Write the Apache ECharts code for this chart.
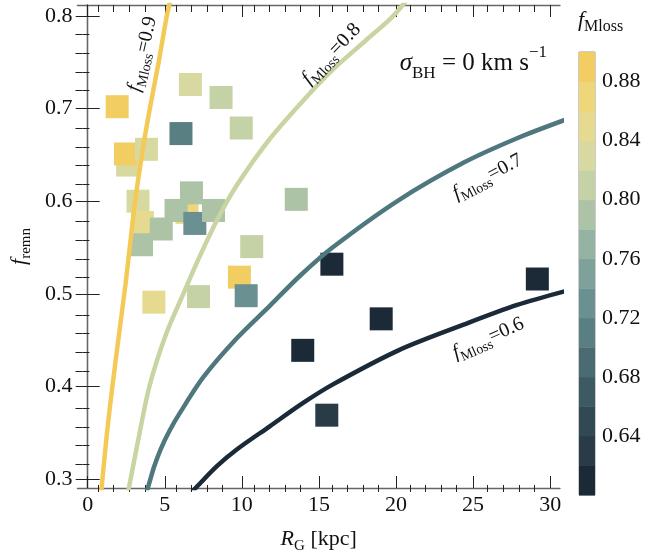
<!DOCTYPE html>
<html>
<head>
<meta charset="utf-8">
<script src="https://cdn.jsdelivr.net/npm/echarts@6/dist/echarts.min.js"></script>
<style>
  html, body { margin: 0; padding: 0; background: #fff; }
  #chart { width: 664px; height: 559px; }
</style>
</head>
<body>
<div id="chart"></div>
<script>
var FONT = 'Liberation Serif, Times New Roman, serif';

// axis ticks
var xMajor = [0, 5, 10, 15, 20, 25, 30];
var xMinor = [1, 2, 3, 4, 6, 7, 8, 9, 11, 12, 13, 14, 16, 17, 18, 19, 21, 22, 23, 24, 26, 27, 28, 29];
var yMajor = [0.3, 0.4, 0.5, 0.6, 0.7, 0.8];
var yMinor = [0.32, 0.34, 0.36, 0.38, 0.42, 0.44, 0.46, 0.48, 0.52, 0.54, 0.56, 0.58,
              0.62, 0.64, 0.66, 0.68, 0.72, 0.74, 0.76, 0.78];
var cbTicks = [0.64, 0.68, 0.72, 0.76, 0.80, 0.84, 0.88];

// colour levels of f_Mloss (15 bands, 0.60 -> 0.90)
var levels = [0.60, 0.62, 0.64, 0.66, 0.68, 0.70, 0.72, 0.74, 0.76, 0.78, 0.80, 0.82, 0.84, 0.86, 0.88, 0.90];
var levelColors = ['#1c2a37', '#283b47', '#324954', '#3d5962', '#4a6b72', '#5a7f83', '#6b9092',
                   '#7fa19c', '#95b3a2', '#adc3a6', '#c5d2a6', '#d8d9a0', '#e6da90', '#eed67b', '#f2cd62'];

// clusters: R_G [kpc], f_remn, f_Mloss (draw order = list order)
var clusterRG    = [2.59, 6.44, 1.91, 6.66, 8.65, 9.96, 6.05, 2.45, 3.81, 3.26, 3.55, 3.49, 4.77, 5.73,
                    6.73, 6.95, 8.16, 13.53, 10.64, 9.84, 15.84, 29.17, 4.29, 7.19, 10.28, 13.95, 15.51, 19.04];
var clusterFremn = [0.639, 0.588, 0.702, 0.726, 0.712, 0.679, 0.673, 0.651, 0.656, 0.600, 0.577, 0.553, 0.570, 0.590,
                    0.609, 0.576, 0.590, 0.602, 0.551, 0.518, 0.532, 0.516, 0.491, 0.497, 0.498, 0.439, 0.369, 0.473];
var clusterFml   = [0.83, 0.87, 0.89, 0.83, 0.81, 0.81, 0.71, 0.89, 0.83, 0.83, 0.85, 0.79, 0.79, 0.79,
                    0.79, 0.73, 0.79, 0.79, 0.81, 0.89, 0.61, 0.61, 0.85, 0.81, 0.73, 0.61, 0.63, 0.61];

// model curves f_remn(R_G) for fixed f_Mloss
var curve09 = [[0.86, 0.283], [0.9, 0.2904], [1.25, 0.35], [1.6, 0.40], [2.02, 0.455], [2.45, 0.51],
               [3.1, 0.603], [3.68, 0.667], [4.03, 0.70], [4.6, 0.75], [5.13, 0.80], [5.4, 0.82]];
var curve08 = [[2.6, 0.284], [2.67, 0.2904], [3.25, 0.34], [4.0, 0.40], [5.05, 0.455], [6.2, 0.50], [7.2, 0.538],
               [8.4, 0.58], [9.7, 0.618], [11.8, 0.667], [14.0, 0.709], [15.9, 0.742], [18.0, 0.773],
               [19.7, 0.798], [20.6, 0.815]];
var curve07 = [[3.75, 0.283], [3.9, 0.2904], [4.3, 0.313], [4.75, 0.333], [5.3, 0.352], [6.0, 0.372],
               [7.5, 0.41], [9.67, 0.452], [11.81, 0.487], [13.74, 0.519], [15.88, 0.55], [20.16, 0.601],
               [24.43, 0.642], [27.86, 0.668], [31.0, 0.688]];
var curve06 = [[6.57, 0.283], [7.0, 0.2904], [8.38, 0.314], [9.67, 0.332], [11.81, 0.357], [13.95, 0.382],
               [15.88, 0.402], [20.16, 0.439], [24.43, 0.467], [27.86, 0.488], [31.0, 0.503]];
var curveColors = ['#f4ca56', '#c8d5a3', '#4f777e', '#1b2a38'];

// curve labels: [R_G, f_remn, rotation deg, value]
var curveLabels = [[3.55, 0.759, 77, '0.9'], [15.81, 0.759, 46.5, '0.8'],
                   [25.94, 0.6265, 28, '0.7'], [25.99, 0.452, 24, '0.6']];

var X_MIN = -0.67, X_MAX = 30.64, Y_MIN = 0.2904, Y_MAX = 0.8118;
var GRID = { left: 72, top: 5, width: 488, height: 487 };

var chart = echarts.init(document.getElementById('chart'), null, { renderer: 'canvas' });

var labelStyle = { fontFamily: FONT, fontSize: 22, color: '#111' };
var frameLine = { show: true, lineStyle: { color: '#666', width: 1.3 } };

function xAx(grid, pos, ticks, len, withLabels, line) {
  return {
    type: 'value', gridIndex: grid, position: pos, min: X_MIN, max: X_MAX,
    axisLine: line ? frameLine : { show: false },
    axisTick: { show: true, inside: true, length: len, customValues: ticks, lineStyle: { color: '#222', width: 1 } },
    axisLabel: withLabels ? Object.assign({ show: true, margin: 6, customValues: ticks }, labelStyle) : { show: false },
    splitLine: { show: false }
  };
}
function yAx(grid, pos, ticks, len, withLabels, line) {
  return {
    type: 'value', gridIndex: grid, position: pos, min: Y_MIN, max: Y_MAX,
    axisLine: line ? frameLine : { show: false },
    axisTick: { show: true, inside: true, length: len, customValues: ticks, lineStyle: { color: '#222', width: 1 } },
    axisLabel: withLabels ? Object.assign({ show: true, margin: 5, customValues: ticks,
      formatter: function (v) { return v.toFixed(1); } }, labelStyle) : { show: false },
    splitLine: { show: false }
  };
}

var xMain = xAx(0, 'bottom', xMajor, 12, true, true);
xMain.name = '{i|R}{s|G}{n| [kpc]}';
xMain.nameLocation = 'middle';
xMain.nameGap = 36;
xMain.nameTextStyle = {
  fontFamily: FONT,
  rich: {
    i: { fontFamily: FONT, fontSize: 22, fontStyle: 'italic', color: '#111', lineHeight: 30 },
    s: { fontFamily: FONT, fontSize: 15, color: '#111', lineHeight: 17, verticalAlign: 'bottom' },
    n: { fontFamily: FONT, fontSize: 22, color: '#111', lineHeight: 30 }
  }
};
var yMain = yAx(0, 'left', yMajor, 12, true, true);
yMain.name = '{i|f}{s|remn}';
yMain.nameLocation = 'middle';
yMain.nameGap = 29;
yMain.nameTextStyle = {
  fontFamily: FONT,
  rich: {
    i: { fontFamily: FONT, fontSize: 22, fontStyle: 'italic', color: '#111', lineHeight: 30 },
    s: { fontFamily: FONT, fontSize: 15, color: '#111', lineHeight: 17, verticalAlign: 'bottom' }
  }
};

var pieces = [];
for (var i = 0; i < levelColors.length; i++) {
  pieces.push({ gte: levels[i], lt: levels[i + 1], color: levelColors[i] });
}

var clusterData = clusterRG.map(function (x, i) { return [x, clusterFremn[i], clusterFml[i]]; });
var bandData = levelColors.map(function (c, i) { return [levels[i], levels[i + 1]]; });

function curveSeries(data, color) {
  return {
    type: 'line', xAxisIndex: 0, yAxisIndex: 0, data: data, smooth: 0.3,
    symbol: 'none', showSymbol: false, z: 3, silent: true,
    lineStyle: { color: color, width: 4.5, cap: 'round' }
  };
}

var option = {
  animation: false,
  backgroundColor: '#fff',
  textStyle: { fontFamily: FONT },
  grid: [
    Object.assign({}, GRID),
    Object.assign({}, GRID),
    { left: 579, top: 52, width: 16, height: 443, show: true, borderColor: '#999', borderWidth: 1 }
  ],
  xAxis: [
    xMain,
    xAx(0, 'top', xMajor, 12, false, true),
    xAx(1, 'bottom', xMinor, 7, false, false),
    xAx(1, 'top', xMinor, 7, false, false),
    { type: 'value', gridIndex: 2, min: 0, max: 1, show: false }
  ],
  yAxis: [
    yMain,
    yAx(0, 'right', yMajor, 12, false, true),
    yAx(1, 'left', yMinor, 7, false, false),
    yAx(1, 'right', yMinor, 7, false, false),
    {
      type: 'value', gridIndex: 2, position: 'right', min: 0.6, max: 0.9,
      axisLine: { show: false },
      axisTick: { show: true, inside: false, length: 5, customValues: cbTicks, lineStyle: { color: '#333', width: 1 } },
      axisLabel: Object.assign({ show: true, margin: 7, customValues: cbTicks,
        formatter: function (v) { return v.toFixed(2); } }, labelStyle),
      splitLine: { show: false }
    }
  ],
  visualMap: [{ type: 'piecewise', show: false, dimension: 2, seriesIndex: 0, pieces: pieces }],
  series: [
    {
      type: 'scatter', xAxisIndex: 0, yAxisIndex: 0, data: clusterData,
      symbol: 'rect', symbolSize: 23, z: 2, silent: true, itemStyle: { opacity: 1 }
    },
    curveSeries(curve09, curveColors[0]),
    curveSeries(curve08, curveColors[1]),
    curveSeries(curve07, curveColors[2]),
    curveSeries(curve06, curveColors[3]),
    {
      type: 'custom', xAxisIndex: 4, yAxisIndex: 4, data: bandData, silent: true,
      encode: { y: [0, 1] },
      renderItem: function (params, api) {
        var p0 = api.coord([0, api.value(1)]);
        var p1 = api.coord([1, api.value(0)]);
        return {
          type: 'rect',
          shape: { x: p0[0], y: p0[1], width: p1[0] - p0[0], height: p1[1] - p0[1] + 0.5 },
          style: { fill: levelColors[params.dataIndex] }
        };
      }
    }
  ],
  graphic: [
    {
      type: 'text', x: 547, y: 63, silent: true,
      style: {
        text: '{i|σ}{s|BH}{n| = 0 km s}{p|−1}',
        align: 'right', verticalAlign: 'middle', fontFamily: FONT,
        rich: {
          i: { fontFamily: FONT, fontSize: 25, fontStyle: 'italic', fill: '#111', lineHeight: 38 },
          s: { fontFamily: FONT, fontSize: 17, fill: '#111', lineHeight: 25, verticalAlign: 'bottom' },
          n: { fontFamily: FONT, fontSize: 25, fill: '#111', lineHeight: 38 },
          p: { fontFamily: FONT, fontSize: 17, fill: '#111', lineHeight: 28, verticalAlign: 'top' }
        }
      }
    },
    {
      type: 'text', x: 578, y: 20, silent: true,
      style: {
        text: '{i|f}{s|Mloss}',
        align: 'left', verticalAlign: 'middle', fontFamily: FONT,
        rich: {
          i: { fontFamily: FONT, fontSize: 22, fontStyle: 'italic', fill: '#111', lineHeight: 30 },
          s: { fontFamily: FONT, fontSize: 16, fill: '#111', lineHeight: 18.6, verticalAlign: 'bottom' }
        }
      }
    }
  ]
};

chart.setOption(option);

// curve labels placed through the main grid's scales
var labelGraphics = curveLabels.map(function (l) {
  var p = chart.convertToPixel({ gridIndex: 0 }, [l[0], l[1]]);
  return {
    type: 'text', x: p[0], y: p[1], rotation: l[2] * Math.PI / 180, silent: true, z: 10,
    style: {
      text: '{i|f}{s|Mloss}{n|=' + l[3] + '}',
      align: 'center', verticalAlign: 'middle', fontFamily: FONT,
      rich: {
        i: { fontFamily: FONT, fontSize: 20, fontStyle: 'italic', fill: '#111', lineHeight: 28 },
        s: { fontFamily: FONT, fontSize: 14, fill: '#111', lineHeight: 16, verticalAlign: 'bottom' },
        n: { fontFamily: FONT, fontSize: 20, fill: '#111', lineHeight: 28 }
      }
    }
  };
});
chart.setOption({ graphic: option.graphic.concat(labelGraphics) });
</script>
</body>
</html>
